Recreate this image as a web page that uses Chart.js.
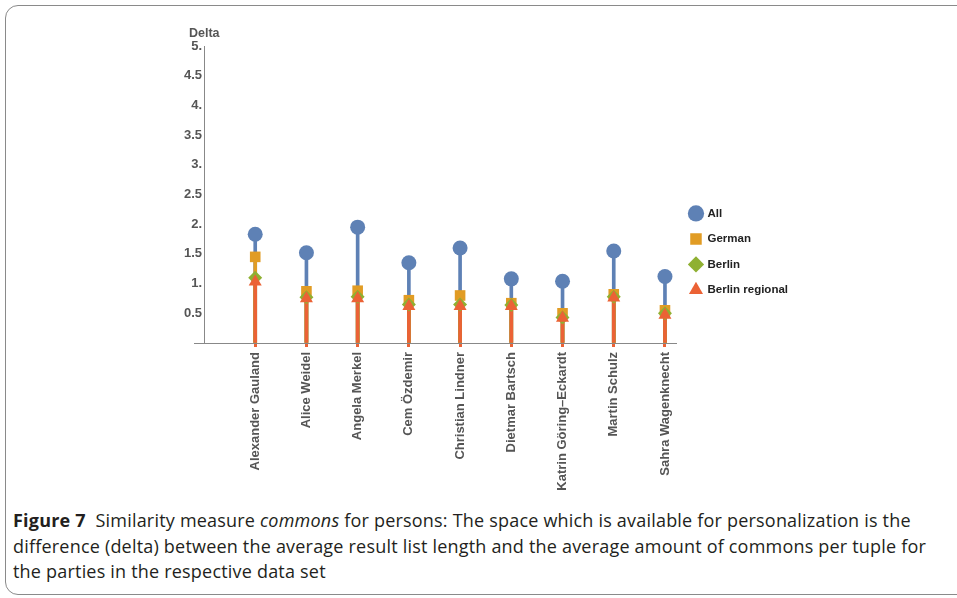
<!DOCTYPE html>
<html>
<head>
<meta charset="utf-8">
<script src="https://cdn.jsdelivr.net/npm/chart.js@4/dist/chart.umd.min.js"></script>
<style>
  html, body { margin:0; padding:0; background:#fff; }
  body { width:957px; height:598px; position:relative; overflow:hidden; }
  #frame { position:absolute; left:5px; top:5px; width:1000px; height:590px; border:1px solid #8a8a8a; border-radius:13px; box-sizing:border-box; }
  #wrap { position:absolute; left:0; top:0; width:957px; height:490px; }
  #delta { position:absolute; left:189px; top:26px; font:bold 12.5px "Liberation Sans", Arial, sans-serif; color:#555; }
  #caption { position:absolute; left:13px; top:508px; width:940px; font-family:"Open Sans", sans-serif; font-size:18px; line-height:25.5px; color:#231f20; letter-spacing:0.2px; white-space:nowrap; }
  #caption b { font-weight:700; }
</style>
</head>
<body>
<div id="frame"></div>
<div id="wrap"><canvas id="c" width="957" height="490"></canvas></div>
<div id="delta">Delta</div>
<div id="caption"><b>Figure 7</b>&nbsp; Similarity measure <i>commons</i> for persons: The space which is available for personalization is the<br>difference (delta) between the average result list length and the average amount of commons per tuple for<br>the parties in the respective data set</div>
<script>
const categories = ["Alexander Gauland","Alice Weidel","Angela Merkel","Cem Özdemir","Christian Lindner","Dietmar Bartsch","Katrin Göring–Eckardt","Martin Schulz","Sahra Wagenknecht"];
const seriesNames = ["All","German","Berlin","Berlin regional"];
const allValues      = [1.83,1.52,1.95,1.35,1.60,1.08,1.04,1.55,1.12];
const germanValues   = [1.45,0.87,0.88,0.72,0.80,0.67,0.50,0.82,0.55];
const berlinValues   = [1.10,0.77,0.78,0.65,0.65,0.64,0.43,0.78,0.50];
const regionalValues = [1.03,0.75,0.75,0.62,0.62,0.62,0.42,0.76,0.47];
const yTicks = [0,0.5,1,1.5,2,2.5,3,3.5,4,4.5,5];

const colors = ["#5E81B5","#E19C24","#8FB032","#EB6235"];
const styles = ["circle","rect","rectRot","triangle"];
const radii = [7.5,7.5,7,7.5];
const seriesValues = [allValues, germanValues, berlinValues, regionalValues];

const pts = vals => vals.map((v,i)=>({x:i,y:v}));

const datasets = [];
seriesValues.forEach((vals,k)=>{
  datasets.push({
    type:'line', label:seriesNames[k], data:pts(vals), showLine:false,
    pointStyle:styles[k], pointRadius:radii[k], pointHoverRadius:radii[k],
    backgroundColor:colors[k], borderColor:colors[k], pointBorderWidth:0, borderWidth:0,
    order: 4-k, clip:false
  });
});
seriesValues.forEach((vals,k)=>{
  datasets.push({
    type:'bar', label:'stem'+k, data:pts(vals), backgroundColor:colors[k], borderWidth:0,
    barThickness:3, grouped:false, order: 8-k
  });
});

const font = {family:'"Liberation Sans", Arial, sans-serif', weight:'bold', size:13};

new Chart(document.getElementById('c'), {
  type:'bar',
  data:{ datasets },
  options:{
    responsive:false, animation:false,
    layout:{ padding:{ left:0, top:46, right:159, bottom:0 } },
    plugins:{
      tooltip:{enabled:false},
      legend:{
        position:'right', align:'start',
        title:{ display:true, text:' ', font:{size:12, lineHeight:1.2}, padding:{top:133.3, bottom:0} },
        labels:{
          usePointStyle:true, padding:14, color:'#222', font:{...font, size:11.5},
          filter: item => item.datasetIndex < 4,
          sort: (a,b) => a.datasetIndex - b.datasetIndex
        }
      }
    },
    scales:{
      x:{
        type:'linear', min:-1, max:8.22, offset:false,
        afterBuildTicks: s => { s.ticks = categories.map((c,i)=>({value:i})); },
        afterFit: s => { s.height = 147; },
        grid:{ offset:false, drawOnChartArea:false, drawTicks:true, tickLength:4, tickColor:colors[3], tickWidth:3 },
        border:{ color:'#888', width:1 },
        ticks:{ autoSkip:false, minRotation:90, maxRotation:90, padding:5, color:'#555', font,
          callback: v => categories[v] !== undefined ? categories[v] : '' }
      },
      y:{
        min:0, max:5,
        afterBuildTicks: s => { s.ticks = yTicks.map(v=>({value:v})); },
        afterFit: s => { s.width = 204; },
        grid:{ display:true, drawOnChartArea:false, drawTicks:true, tickLength:10, tickWidth:1,
          tickColor: ctx => (ctx.tick && ctx.tick.value === 0) ? '#888' : 'rgba(0,0,0,0)' },
        border:{ color:'#888', width:1 },
        ticks:{ padding:-8, color:'#555', font,
          callback: v => v === 0 ? '' : (Number.isInteger(v) ? v + '.' : String(v)) }
      }
    }
  }
});
</script>
</body>
</html>
